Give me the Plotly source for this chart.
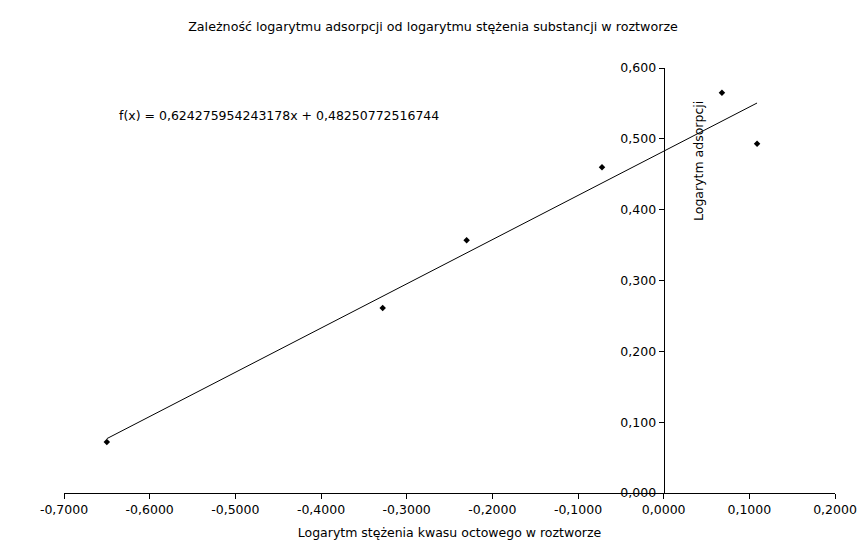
import plotly.graph_objects as go

x_vals = [-0.650, -0.328, -0.230, -0.072, 0.068, 0.109]
y_vals = [0.072, 0.261, 0.357, 0.460, 0.565, 0.493]
slope = 0.624275954243178
intercept = 0.48250772516744
x_ticks = [-0.7, -0.6, -0.5, -0.4, -0.3, -0.2, -0.1, 0.0, 0.1, 0.2]
x_tick_labels = ["-0,7000", "-0,6000", "-0,5000", "-0,4000", "-0,3000",
                 "-0,2000", "-0,1000", "0,0000", "0,1000", "0,2000"]
y_ticks = [0.0, 0.1, 0.2, 0.3, 0.4, 0.5, 0.6]
y_tick_labels = ["0,000", "0,100", "0,200", "0,300", "0,400", "0,500", "0,600"]

FONT = "DejaVu Sans"
W, H = 866, 548
L, R, T, B = 64, 31, 68, 55
FS = 12.5

x_min, x_max = -0.7, 0.2
line_x = [min(x_vals), max(x_vals)]
line_y = [slope * v + intercept for v in line_x]

fig = go.Figure()
fig.add_trace(go.Scatter(x=line_x, y=line_y, mode="lines",
                         line=dict(color="black", width=1), showlegend=False,
                         hoverinfo="skip"))
fig.add_trace(go.Scatter(x=x_vals, y=y_vals, mode="markers",
                         marker=dict(symbol="diamond", size=5, color="black"),
                         showlegend=False))

pos0 = (0 - x_min) / (x_max - x_min)

fig.update_layout(
    width=W, height=H,
    margin=dict(l=L, r=R, t=T, b=B, autoexpand=False),
    plot_bgcolor="white", paper_bgcolor="white",
    separators=", ",
    font=dict(family=FONT, size=FS, color="black"),
    title=dict(text="Zależność logarytmu adsorpcji od logarytmu stężenia substancji w roztworze",
               x=0.5, xanchor="center", y=1 - 27 / H, yanchor="middle",
               font=dict(family=FONT, size=12.7, color="black")),
    xaxis=dict(range=[x_min, x_max], tickvals=x_ticks, ticktext=x_tick_labels,
               automargin=False,
               showgrid=False, zeroline=False, showline=True, linecolor="black",
               linewidth=1, ticks="outside", ticklen=5, tickcolor="black",
               tickfont=dict(size=FS),
               title=dict(text="Logarytm stężenia kwasu octowego w roztworze",
                          font=dict(size=FS), standoff=12)),
    yaxis=dict(range=[0, 0.6], tickvals=y_ticks, ticktext=y_tick_labels,
               automargin=False,
               anchor="free", position=pos0,
               showgrid=False, zeroline=False, showline=True, linecolor="black",
               linewidth=1, ticks="outside", ticklen=5, tickcolor="black",
               tickfont=dict(size=FS)),
    annotations=[
        dict(text="f(x) = 0,624275954243178x + 0,48250772516744",
             xref="paper", yref="paper", x=(117 - L) / (W - L - R),
             y=(H - B - 115) / (H - T - B), xanchor="left", yanchor="middle",
             showarrow=False, font=dict(size=FS)),
        dict(text="Logarytm adsorpcji", textangle=-90,
             xref="paper", yref="paper", x=(698 - L) / (W - L - R),
             y=(H - B - 161) / (H - T - B), xanchor="center", yanchor="middle",
             showarrow=False, font=dict(size=FS)),
    ],
)

fig.write_html("out.html", config={"displayModeBar": False},
               post_script="document.body.style.margin='0';document.body.style.overflow='hidden';")
